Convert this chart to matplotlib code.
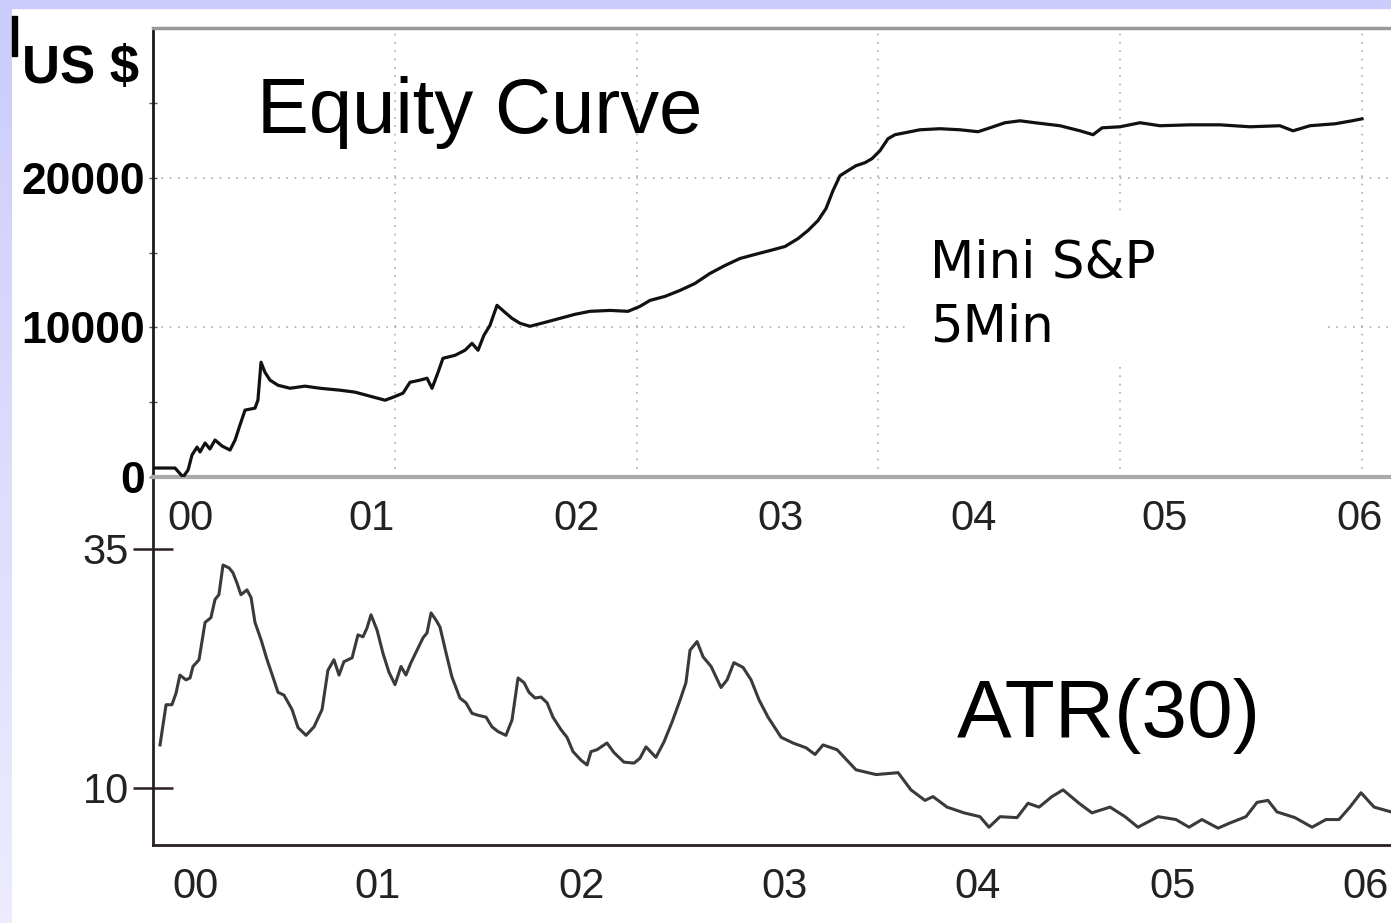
import numpy as np
import matplotlib.pyplot as plt
from matplotlib.patches import Rectangle

# time axis: years from the left edge of the chart
equity_t = [0.00, 0.113, 0.154, 0.18, 0.20, 0.226, 0.241, 0.267, 0.292, 0.318,
            0.354, 0.395, 0.421, 0.446, 0.472, 0.523, 0.538, 0.554, 0.574, 0.60,
            0.641, 0.703, 0.779, 0.856, 0.959, 1.036, 1.113, 1.19, 1.231, 1.282,
            1.318, 1.369, 1.405, 1.431, 1.462, 1.487, 1.549, 1.60, 1.636, 1.667,
            1.697, 1.728, 1.764, 1.805, 1.841, 1.882, 1.933, 2.01, 2.087, 2.164,
            2.241, 2.344, 2.436, 2.497, 2.549, 2.626, 2.703, 2.779, 2.856, 2.933,
            3.01, 3.087, 3.164, 3.241, 3.308, 3.359, 3.41, 3.451, 3.487, 3.523,
            3.564, 3.605, 3.651, 3.687, 3.728, 3.769, 3.805, 3.856, 3.933, 4.036,
            4.138, 4.231, 4.292, 4.369, 4.446, 4.523, 4.651, 4.754, 4.821, 4.867,
            4.959, 5.062, 5.164, 5.318, 5.472, 5.626, 5.779, 5.846, 5.933, 6.062,
            6.149, 6.2]
equity_usd = [600, 600, 0, 470, 1470, 2000, 1670, 2270, 1870, 2470,
              2070, 1800, 2470, 3470, 4470, 4600, 5130, 7670, 7000, 6470,
              6130, 5930, 6070, 5930, 5800, 5670, 5400, 5130, 5330, 5600,
              6330, 6470, 6600, 5930, 7000, 7930, 8130, 8470, 8930, 8470,
              9470, 10130, 11470, 11000, 10600, 10270, 10070, 10330, 10600, 10870,
              11070, 11130, 11070, 11400, 11800, 12070, 12470, 12930, 13600, 14130,
              14600, 14870, 15130, 15400, 15930, 16470, 17130, 17930, 19130, 20130,
              20470, 20800, 21000, 21270, 21800, 22600, 22870, 23000, 23200, 23270,
              23200, 23070, 23330, 23670, 23800, 23670, 23470, 23130, 22870, 23330,
              23400, 23670, 23470, 23530, 23530, 23400, 23470, 23130, 23470, 23600,
              23800, 23930]

atr_t = [0.036, 0.067, 0.097, 0.118, 0.138, 0.169, 0.19, 0.205, 0.236, 0.267,
         0.297, 0.318, 0.338, 0.359, 0.39, 0.41, 0.431, 0.451, 0.482, 0.503,
         0.523, 0.554, 0.585, 0.615, 0.641, 0.672, 0.713, 0.744, 0.785, 0.826,
         0.867, 0.897, 0.928, 0.954, 0.979, 1.021, 1.051, 1.077, 1.097, 1.118,
         1.149, 1.179, 1.21, 1.241, 1.272, 1.297, 1.323, 1.354, 1.385, 1.405,
         1.426, 1.456, 1.472, 1.503, 1.533, 1.574, 1.605, 1.636, 1.667, 1.708,
         1.738, 1.769, 1.81, 1.841, 1.872, 1.903, 1.928, 1.959, 1.99, 2.021,
         2.051, 2.092, 2.123, 2.154, 2.195, 2.226, 2.246, 2.277, 2.328, 2.364,
         2.415, 2.467, 2.497, 2.528, 2.579, 2.62, 2.662, 2.703, 2.733, 2.754,
         2.79, 2.821, 2.862, 2.913, 2.944, 2.979, 3.026, 3.067, 3.108, 3.154,
         3.221, 3.282, 3.349, 3.395, 3.436, 3.508, 3.605, 3.708, 3.821, 3.887,
         3.959, 4.0, 4.072, 4.159, 4.241, 4.287, 4.344, 4.431, 4.487, 4.544,
         4.61, 4.667, 4.749, 4.815, 4.908, 4.985, 5.051, 5.154, 5.246, 5.313,
         5.379, 5.462, 5.518, 5.605, 5.662, 5.718, 5.764, 5.856, 5.944, 6.015,
         6.082, 6.138, 6.195, 6.262, 6.349]
atr_val = [14.5, 18.7, 18.7, 19.9, 21.8, 21.3, 21.5, 22.7, 23.4, 27.3,
           27.8, 29.7, 30.2, 33.3, 33.0, 32.5, 31.4, 30.2, 30.7, 29.9,
           27.3, 25.5, 23.4, 21.6, 20.0, 19.7, 18.2, 16.3, 15.5, 16.4,
           18.2, 22.3, 23.4, 21.8, 23.2, 23.6, 26.0, 25.8, 26.7, 28.1,
           26.5, 24.1, 22.1, 20.8, 22.7, 21.8, 23.1, 24.4, 25.7, 26.2,
           28.3, 27.4, 26.8, 24.1, 21.6, 19.4, 18.9, 17.8, 17.6, 17.4,
           16.4, 15.9, 15.5, 17.1, 21.5, 21.0, 20.0, 19.4, 19.5, 18.9,
           17.4, 16.1, 15.3, 13.8, 12.9, 12.4, 13.8, 14.0, 14.7, 13.7,
           12.7, 12.6, 13.1, 14.3, 13.2, 14.8, 16.9, 19.2, 21.0, 24.4,
           25.3, 23.7, 22.7, 20.5, 21.3, 23.1, 22.6, 21.3, 19.2, 17.4,
           15.3, 14.7, 14.2, 13.5, 14.5, 14.0, 11.9, 11.4, 11.6, 9.8,
           8.7, 9.1, 8.0, 7.4, 7.0, 5.9, 7.0, 6.9, 8.4, 8.0,
           9.1, 9.8, 8.4, 7.4, 8.0, 7.0, 5.9, 7.0, 6.7, 5.9,
           6.7, 5.8, 6.3, 7.0, 8.5, 8.7, 7.5, 6.9, 5.9, 6.7,
           6.7, 8.0, 9.5, 8.0, 7.5]

year_labels = ['00', '01', '02', '03', '04', '05', '06']
top_label_pos = [0.19, 1.12, 2.17, 3.22, 4.21, 5.19, 6.19]
bottom_label_pos = [0.22, 1.15, 2.20, 3.24, 4.23, 5.23, 6.22]

W, H = 1391, 923
fig = plt.figure(figsize=(W / 100, H / 100), dpi=100)
fig.patch.set_facecolor('white')

# lavender frame strips
fig.patches.append(Rectangle((0, 1 - 8 / H), 1, 8 / H, transform=fig.transFigure,
                             color='#ccccfc', zorder=0))
grad = fig.add_axes([0, 0, 12 / W, 1 - 8 / H])
grad.imshow(np.linspace(0, 1, 100).reshape(-1, 1), aspect='auto',
            cmap=plt.matplotlib.colors.LinearSegmentedColormap.from_list(
                'lav', ['#ccccfc', '#ececfe']))
grad.axis('off')
fig.patches.append(Rectangle((12 / W, 1 - 56 / H), 5 / W, 40 / H, transform=fig.transFigure,
                             color='black', zorder=5))

xlim = (0, (W - 153) / 195)

# ---- equity panel
ax1 = fig.add_axes([153 / W, 1 - 477 / H, 1 - 153 / W, 449 / H])
ax1.plot(equity_t, equity_usd, color='#111111', lw=2.3, zorder=3)
ax1.set_xlim(xlim)
ax1.set_ylim(0, 30000)
for g in np.arange(1.24, 6.3, 1.24):
    ax1.axvline(g, color='#aaaaaa', lw=1.2, ls=(0, (1, 4)), zorder=1)
for g in [10000, 20000]:
    ax1.axhline(g, color='#aaaaaa', lw=1.2, ls=(0, (1, 4)), zorder=1)
# white label box hiding the grid
ax1.add_patch(Rectangle((905 / W, 1 - 362 / H), 420 / W, 149 / H,
                        transform=fig.transFigure, color='white', zorder=2))
ax1.spines['right'].set_visible(False)
ax1.spines['top'].set_color('#999999')
ax1.spines['top'].set_linewidth(2.5)
ax1.spines['bottom'].set_color('#aaaaaa')
ax1.spines['bottom'].set_linewidth(3)
ax1.spines['left'].set_color('#1a1a1a')
ax1.spines['left'].set_linewidth(2)
ax1.set_yticks([0, 10000, 20000])
ax1.set_yticks([5000, 15000, 25000], minor=True)
ax1.set_yticklabels(['0', '10000', '20000'], fontsize=32, fontweight='bold',
                    family='Liberation Sans')
ax1.tick_params(axis='y', which='both', direction='inout', length=6, width=1,
                color='#555555', pad=3)
ax1.set_xticks(top_label_pos)
ax1.set_xticklabels(year_labels, fontsize=30, family='Liberation Sans', color='#222222')
ax1.tick_params(axis='x', length=0, pad=16)
ax1.patch.set_alpha(0)

# ---- ATR panel
ax2 = fig.add_axes([153 / W, 1 - 845 / H, 1 - 153 / W, 368 / H])
ax2.plot(atr_t, atr_val, color='#3a3a3a', lw=2.2)
ax2.set_xlim(xlim)
ax2.set_ylim(4.04, 42.5)
for s in ['top', 'right']:
    ax2.spines[s].set_visible(False)
for s in ['left', 'bottom']:
    ax2.spines[s].set_color('#2a2020')
    ax2.spines[s].set_linewidth(2)
ax2.set_yticks([10, 35])
ax2.set_yticklabels(['10', '35'], fontsize=30, family='Liberation Sans', color='#222222')
ax2.tick_params(axis='y', direction='inout', length=29, width=1.8, color='#2a2020', pad=3)
ax2.set_xticks(bottom_label_pos)
ax2.set_xticklabels(year_labels, fontsize=30, family='Liberation Sans', color='#222222')
ax2.tick_params(axis='x', length=0, pad=16)
ax2.patch.set_alpha(0)
ax1.set_zorder(3)

# ---- texts
fig.text(22 / W, 1 - 83 / H, 'US $', fontsize=38, fontweight='bold',
         family='Liberation Sans', va='baseline', ha='left')
fig.text(257 / W, 1 - 133 / H, 'Equity Curve', fontsize=56,
         family='Liberation Sans', va='baseline', ha='left')
fig.text(957 / W, 1 - 737 / H, 'ATR(30)', fontsize=59,
         family='Liberation Sans', va='baseline', ha='left')
fig.text(930 / W, 1 - 278 / H, 'Mini S&P', fontsize=37,
         family='DejaVu Sans', va='baseline', ha='left')
fig.text(930 / W, 1 - 341 / H, '5Min', fontsize=37,
         family='DejaVu Sans', va='baseline', ha='left')

fig.savefig('out.png', dpi=100)
